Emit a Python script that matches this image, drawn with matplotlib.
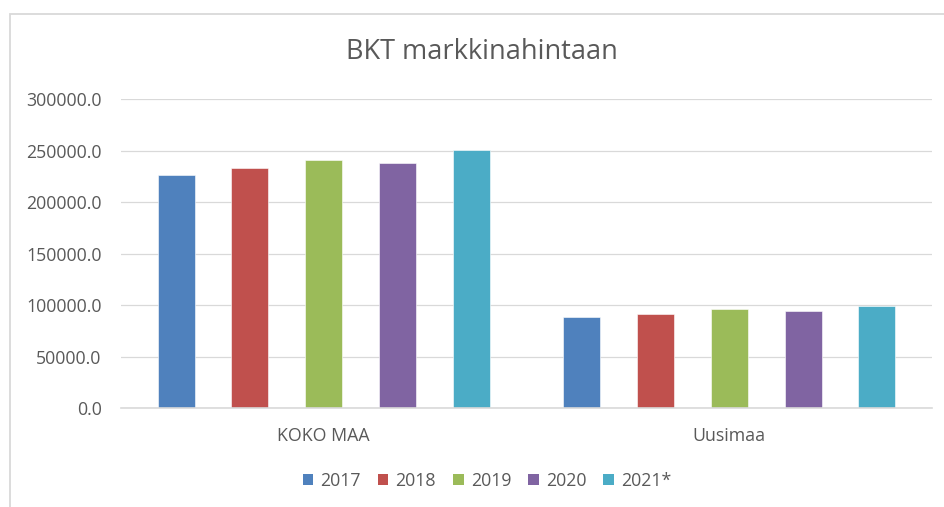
import matplotlib
matplotlib.use("Agg")
import matplotlib.pyplot as plt
from matplotlib.patches import Patch, Rectangle
import numpy as np

categories = ["KOKO MAA", "Uusimaa"]
years = ["2017", "2018", "2019", "2020", "2021*"]
values = {
    "2017": [226800, 88100],
    "2018": [233600, 91600],
    "2019": [241000, 95800],
    "2020": [238400, 94500],
    "2021*": [251000, 99000],
}
colors = ["#4F81BD", "#C0504D", "#9BBB59", "#8064A2", "#4BACC6"]
yticks = [0, 50000, 100000, 150000, 200000, 250000, 300000]

plt.rcParams["font.family"] = ["Open Sans", "DejaVu Sans"]
txt = "#595959"
grid = "#d9d9d9"

W, H = 944, 507
fig = plt.figure(figsize=(W / 100, H / 100), dpi=100)
ax = fig.add_axes([121 / W, 1 - 408 / H, (932 - 121) / W, (408 - 99.3) / H])

# outer chart border
fig.patches.append(Rectangle((10 / W, -0.1), 1.2, 1 - 14 / H + 0.1,
                             transform=fig.transFigure, fill=False,
                             edgecolor=grid, lw=1.3))

x = np.arange(len(categories)) + 0.5
width = 0.0912
pitch = 0.182
for i, y in enumerate(years):
    ax.bar(x + (i - 2) * pitch, values[y], width, color=colors[i],
           edgecolor="white", linewidth=0.4, zorder=3)

ax.set_xlim(0, 2)
ax.set_ylim(0, 300000)
ax.set_yticks(yticks)
ax.set_yticklabels([f"{v:.1f}" for v in yticks])
ax.set_xticks(x)
ax.set_xticklabels(categories)
ax.tick_params(axis="y", length=0, pad=14, labelsize=12.8, labelcolor=txt)
ax.tick_params(axis="x", length=0, pad=14, labelsize=12.8, labelcolor=txt)
ax.grid(axis="y", color=grid, lw=0.9, zorder=0)
for s in ["top", "right", "left"]:
    ax.spines[s].set_visible(False)
ax.spines["bottom"].set_color(grid)
ax.spines["bottom"].set_linewidth(1.2)
ax.spines["bottom"].set_zorder(4)

fig.text(482 / W, 1 - 52 / H, "BKT markkinahintaan", ha="center", va="center",
         fontsize=19.5, color=txt)

handles = [Patch(facecolor=c, edgecolor="none") for c in colors]
fig.legend(handles, years, loc="center", bbox_to_anchor=(487 / W, 1 - 481 / H),
           ncol=5, frameon=False, handlelength=0.6, handleheight=0.6,
           handletextpad=0.4, columnspacing=0.95, fontsize=12.8,
           labelcolor=txt)

fig.savefig("out.png", dpi=100)
